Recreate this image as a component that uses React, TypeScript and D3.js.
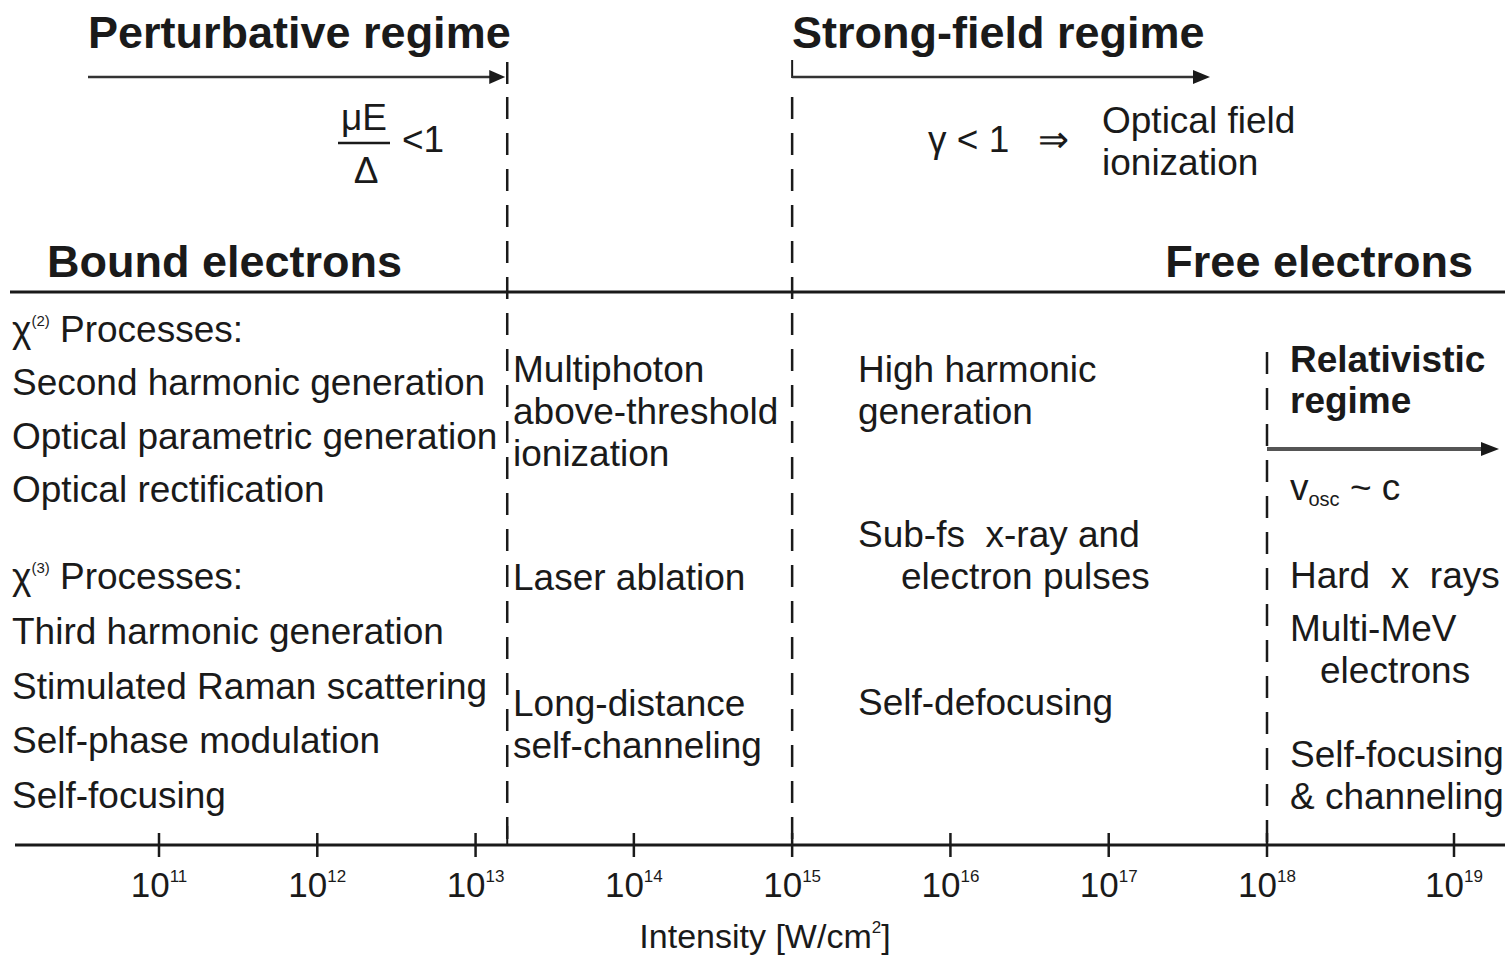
import React from "react";
import * as d3 from "d3";

// intensity axis, exponents of 10 (W/cm^2)
const tickExponents = [11, 12, 13, 14, 15, 16, 17, 18, 19];
// regime boundaries (log10 intensity)
const perturbativeEdge = 13.2;
const strongFieldEdge = 15;
const relativisticEdge = 18;

const leftTop = ["Second harmonic generation", "Optical parametric generation", "Optical rectification"];
const leftBottom = ["Third harmonic generation", "Stimulated Raman scattering", "Self-phase modulation", "Self-focusing"];
const midBlocks = [
  { lines: ["Multiphoton", "above-threshold", "ionization"], row: 0 },
  { lines: ["Laser ablation"], row: 4.95 },
  { lines: ["Long-distance", "self-channeling"], row: 7.95 },
];
const hhgBlocks = [
  { lines: ["High harmonic", "generation"], indent: [0, 0], row: 0 },
  { lines: ["Sub-fs  x-ray and", "electron pulses"], indent: [0, 43], row: 3.93 },
  { lines: ["Self-defocusing"], indent: [0], row: 7.93 },
];
const relBlocks = [
  { lines: ["Hard  x  rays"], indent: [0], row: 4.9 },
  { lines: ["Multi-MeV", "electrons"], indent: [0, 30], row: 6.17 },
  { lines: ["Self-focusing", "& channeling"], indent: [0, 0], row: 9.17 },
];

const W = 1512;
const H = 958;
const axisY = 845;
const sepY = 292;
const ink = "#1a1a1a";
const font = "'Liberation Sans', Arial, sans-serif";

export default function App() {
  // hand-drawn axis: last decade is stretched
  const x = d3.scaleLog().domain([1e11, 1e18, 1e19]).range([159, 1267, 1454]);
  const xe = (e: number) => x(Math.pow(10, e));
  // row scale for the right-hand text blocks (baseline)
  const row = d3.scaleLinear().domain([0, 1]).range([382, 424]);

  const dash = "22 14";
  const regular = { fontFamily: font, fontSize: 37, fill: ink, style: { whiteSpace: "pre" } } as const;
  const bold = { fontFamily: font, fontSize: 45, fontWeight: 700, fill: ink } as const;

  const xP = xe(perturbativeEdge);
  const xS = xe(strongFieldEdge);
  const xR = xe(relativisticEdge);

  return (
    <svg width={W} height={H} style={{ position: "absolute", left: 0, top: 0, background: "#fff" }}>
      <rect width={W} height={H} fill="#fff" />

      {/* regime headings and arrows */}
      <text x={88} y={48} {...bold}>Perturbative regime</text>
      <line x1={88} x2={498} y1={77} y2={77} stroke="#333" strokeWidth={2.5} />
      <path d={`M${xP - 2},77 l-16,-7 l0,14 z`} fill={ink} />
      <line x1={xP} x2={xP} y1={62} y2={84} stroke={ink} strokeWidth={2.5} />

      <text x={792} y={48} {...bold}>Strong-field regime</text>
      <line x1={xS} x2={xS} y1={60} y2={78} stroke={ink} strokeWidth={2} />
      <line x1={xS} x2={1195} y1={77} y2={77} stroke="#333" strokeWidth={2.5} />
      <path d="M1210,77 l-17,-7 l0,14 z" fill={ink} />

      {/* mu E / Delta < 1 */}
      <text x={364} y={130} textAnchor="middle" {...regular}>μE</text>
      <line x1={338} x2={390} y1={143} y2={143} stroke={ink} strokeWidth={2.5} />
      <text x={366} y={183} textAnchor="middle" {...regular}>Δ</text>
      <text x={402} y={152} {...regular}>&lt;1</text>

      {/* gamma < 1 => optical field ionization */}
      <text x={928} y={152} {...regular}>γ &lt; 1</text>
      <text x={1038} y={152} {...regular}>⇒</text>
      <text x={1102} y={133} {...regular}>Optical field</text>
      <text x={1102} y={175} {...regular}>ionization</text>

      <text x={47} y={277} {...bold}>Bound electrons</text>
      <text x={1473} y={277} textAnchor="end" {...bold}>Free electrons</text>

      {/* separator and boundaries */}
      <line x1={10} x2={1505} y1={sepY} y2={sepY} stroke={ink} strokeWidth={3} />
      <line x1={xP} x2={xP} y1={97} y2={axisY} stroke={ink} strokeWidth={2.5} strokeDasharray={dash} />
      <line x1={xS} x2={xS} y1={97} y2={axisY} stroke={ink} strokeWidth={2.5} strokeDasharray={dash} />
      <line x1={xR} x2={xR} y1={352} y2={axisY} stroke={ink} strokeWidth={2.5} strokeDasharray={dash} />

      {/* left column: bound-electron processes */}
      <text x={12} y={342} {...regular}>
        χ<tspan fontSize={15} dy={-16}>(2)</tspan>
        <tspan dy={16}> Processes:</tspan>
      </text>
      {leftTop.map((t, i) => (
        <text key={t} x={12} y={395 + i * 53.5} {...regular}>{t}</text>
      ))}
      <text x={12} y={589} {...regular}>
        χ<tspan fontSize={15} dy={-16}>(3)</tspan>
        <tspan dy={16}> Processes:</tspan>
      </text>
      {leftBottom.map((t, i) => (
        <text key={t} x={12} y={644 + i * 54.5} {...regular}>{t}</text>
      ))}

      {/* middle column */}
      {midBlocks.map((b) =>
        b.lines.map((t, i) => (
          <text key={t} x={513} y={row(b.row) + i * 42} {...regular}>{t}</text>
        ))
      )}

      {/* strong-field column */}
      {hhgBlocks.map((b) =>
        b.lines.map((t, i) => (
          <text key={t} x={858 + b.indent[i]} y={row(b.row) + i * 42} {...regular}>{t}</text>
        ))
      )}

      {/* relativistic regime */}
      <text x={1290} y={372} {...bold} fontSize={37}>Relativistic</text>
      <text x={1290} y={413} {...bold} fontSize={37}>regime</text>
      <line x1={xR} x2={1482} y1={449} y2={449} stroke="#555" strokeWidth={4} />
      <path d="M1499,449 l-18,-7 l0,14 z" fill={ink} />
      <text x={1290} y={500} {...regular}>
        v<tspan fontSize={20} dy={6}>osc</tspan>
        <tspan dy={-6}> ~ c</tspan>
      </text>
      {relBlocks.map((b) =>
        b.lines.map((t, i) => (
          <text key={t} x={1290 + b.indent[i]} y={row(b.row) + i * 42} {...regular}>{t}</text>
        ))
      )}

      {/* intensity axis */}
      <line x1={15} x2={1505} y1={axisY} y2={axisY} stroke={ink} strokeWidth={3} />
      <line x1={xP} x2={xP} y1={826} y2={axisY} stroke={ink} strokeWidth={2} />
      {tickExponents.map((e) => (
        <g key={e} transform={`translate(${xe(e)},0)`}>
          <line y1={axisY - 12} y2={axisY + 12} stroke={ink} strokeWidth={2.5} />
          <text y={897} textAnchor="middle" {...regular} fontSize={35}>
            10<tspan fontSize={17} dy={-15}>{e}</tspan>
          </text>
        </g>
      ))}
      <text x={765} y={948} textAnchor="middle" {...regular} fontSize={34}>
        Intensity [W/cm<tspan fontSize={17} dy={-15}>2</tspan>
        <tspan dy={15}>]</tspan>
      </text>
    </svg>
  );
}
